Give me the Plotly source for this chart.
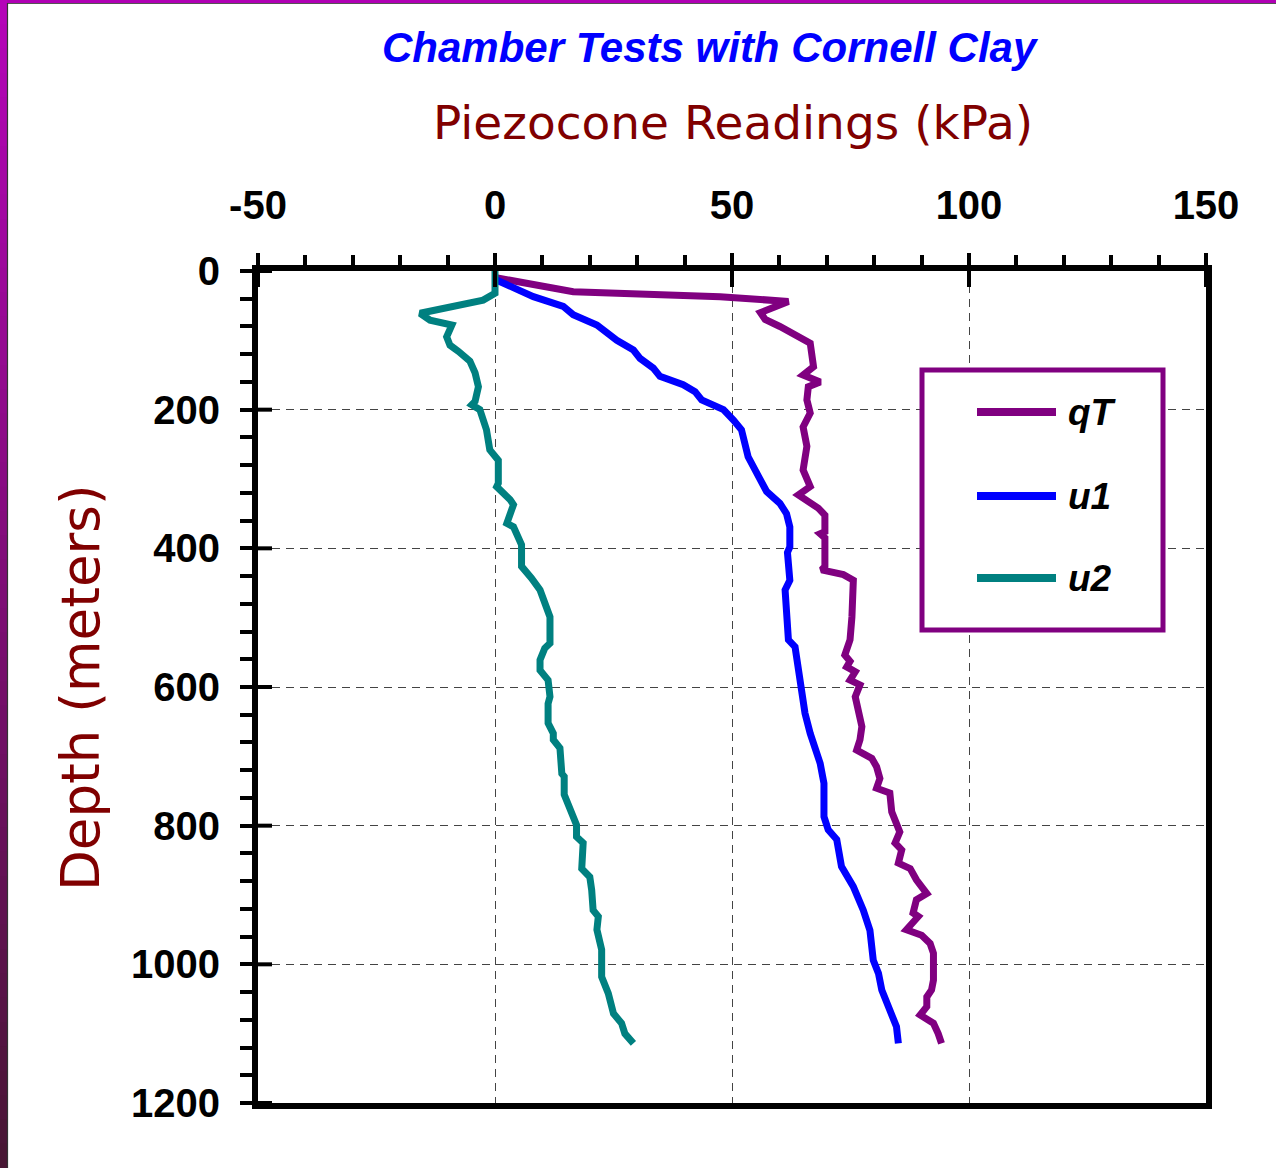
import plotly.graph_objects as go

# ---- piezocone profiles (depth in m, reading in kPa) ----
qt_depth = [10, 30, 37, 44, 60, 70, 80, 104, 138, 150, 160, 167, 186, 205, 225, 253,
            287, 311, 323, 342, 352, 376, 379, 385, 426, 431, 438, 446, 499, 532, 554,
            563, 571, 578, 590, 597, 614, 631, 657, 676, 691, 703, 715, 732, 746, 753,
            780, 809, 825, 835, 854, 862, 878, 898, 907, 926, 931, 950, 958, 970, 984,
            1023, 1037, 1047, 1061, 1073, 1085, 1100, 1114]
qt_val = [0.5, 16.5, 47.5, 61.9, 56.0, 57.0, 60.1, 66.5, 67.2, 65.0, 68.6, 66.1, 65.8,
          66.5, 65.0, 65.8, 65.0, 66.5, 64.0, 68.2, 69.6, 69.6, 68.6, 69.6, 69.6, 68.9,
          73.5, 75.6, 75.3, 74.9, 73.8, 74.9, 74.2, 76.0, 74.9, 77.0, 76.0, 76.7, 77.4,
          77.0, 76.3, 79.5, 80.5, 81.2, 80.5, 83.3, 83.7, 85.4, 84.4, 85.8, 85.1, 87.6,
          88.9, 91.1, 88.9, 88.2, 89.3, 86.8, 90.0, 91.8, 92.5, 92.5, 92.1, 91.1, 91.1,
          89.7, 92.5, 93.5, 94.2]

u1_depth = [13, 37, 51, 63, 78, 100, 114, 126, 140, 152, 164, 174, 186, 200, 215, 229,
            268, 282, 306, 318, 335, 350, 369, 398, 406, 446, 460, 532, 542, 599, 638,
            667, 686, 710, 739, 787, 806, 820, 859, 888, 922, 951, 994, 1013, 1037, 1061,
            1090, 1114]
u1_val = [0.3, 8.1, 14.4, 16.5, 21.5, 25.7, 29.2, 30.6, 33.4, 34.8, 39.7, 42.2, 43.6,
          48.2, 50.3, 52.0, 53.4, 54.5, 56.3, 57.3, 60.1, 61.5, 62.2, 62.2, 61.7, 62.2,
          61.2, 61.9, 63.3, 64.7, 65.4, 66.5, 67.5, 68.6, 69.4, 69.4, 70.3, 72.1, 73.1,
          75.6, 77.7, 79.1, 79.8, 80.9, 81.6, 83.0, 84.7, 85.1]

u2_depth = [0, 32, 42, 51, 61, 71, 78, 95, 107, 116, 130, 147, 167, 188, 193, 200, 229,
            258, 273, 306, 311, 330, 337, 364, 369, 395, 426, 443, 460, 499, 537, 544,
            561, 576, 590, 614, 624, 652, 667, 676, 688, 725, 729, 755, 777, 799, 816,
            825, 862, 874, 893, 922, 931, 950, 979, 1018, 1042, 1071, 1085, 1100, 1114]
u2_val = [0.0, 0.0, -2.5, -8.8, -15.8, -13.7, -9.1, -10.2, -9.5, -7.7, -5.3, -4.2, -3.5,
          -4.2, -4.9, -3.2, -1.8, -1.1, 0.7, 0.7, 0.35, 3.2, 3.9, 2.5, 3.9, 5.6, 5.6, 7.7,
          9.5, 11.6, 11.6, 10.5, 9.5, 9.5, 11.2, 11.6, 11.2, 11.2, 12.3, 12.3, 13.7, 14.1,
          14.6, 14.6, 15.8, 17.2, 17.2, 18.6, 18.3, 20.0, 20.4, 20.7, 21.8, 21.5, 22.5,
          22.5, 23.9, 25.0, 26.7, 27.4, 29.2]

series_names = ["qT", "u1", "u2"]
series_colors = ["#800080", "#0000FF", "#008080"]
series_depths = [qt_depth, u1_depth, u2_depth]
series_values = [qt_val, u1_val, u2_val]

x_ticks = [-50, 0, 50, 100, 150]
x_ticktext = ["-50", "0", "50", "100", "150"]
y_ticks = [0, 200, 400, 600, 800, 1000, 1200]
y_ticktext = ["0", "200", "400", "600", "800", "1000", "1200"]
x_range = [-50, 150]
y_range = [1200, 0]

title_top = "Chamber Tests with Cornell Clay"
title_main = "Piezocone Readings (kPa)"
y_title = "Depth (meters)"

# ---- page geometry (pixels) ----
W, H = 1276, 1168
ML, MR, MT, MB = 258, 70, 271, 65
PW, PH = W - ML - MR, H - MT - MB


def px_x(p):
    return (p - ML) / PW


def px_y(p):
    return 1 - (p - MT) / PH


fig = go.Figure()
for name, color, d, v in zip(series_names, series_colors, series_depths, series_values):
    fig.add_trace(go.Scatter(x=v, y=d, mode="lines", name=name,
                             line=dict(color=color, width=7), showlegend=False))

tick_font = dict(family="Liberation Sans, Arial, sans-serif", size=40, color="black",
                 weight="bold")
grid_dash = "8px,6px"

fig.update_layout(
    width=W, height=H,
    margin=dict(l=ML, r=MR, t=MT, b=MB),
    paper_bgcolor="white", plot_bgcolor="white",
    xaxis=dict(range=x_range, side="top", tickmode="array", tickvals=x_ticks,
               ticktext=x_ticktext,
               showline=True, linecolor="black", linewidth=6, mirror=True,
               ticks="outside", ticklen=12, tickwidth=4, tickcolor="black",
               minor=dict(dtick=10, tick0=-50, ticks="outside", ticklen=10, tickwidth=4,
                          tickcolor="black", showgrid=False),
               showgrid=True, gridcolor="#444", gridwidth=1.2, griddash=grid_dash,
               zeroline=False, tickfont=tick_font, ticklabelstandoff=18),
    yaxis=dict(range=y_range, tickmode="array", tickvals=y_ticks, ticktext=y_ticktext,
               showline=True, linecolor="black", linewidth=6, mirror=True,
               ticks="outside", ticklen=12, tickwidth=4, tickcolor="black",
               minor=dict(dtick=40, tick0=0, ticks="outside", ticklen=12, tickwidth=4,
                          tickcolor="black", showgrid=False),
               showgrid=True, gridcolor="#444", gridwidth=1.2, griddash=grid_dash,
               zeroline=False, tickfont=tick_font, ticklabelstandoff=12),
)

annotations = [
    dict(text=title_top, x=px_x(710), y=px_y(47), xref="paper", yref="paper",
         showarrow=False, xanchor="center", yanchor="middle",
         font=dict(family="Liberation Sans, Arial, sans-serif", size=42,
                   color="#0000FF", weight="bold", style="italic")),
    dict(text=title_main, x=px_x(733), y=px_y(123), xref="paper", yref="paper",
         showarrow=False, xanchor="center", yanchor="middle",
         font=dict(family="Comic Sans MS, DejaVu Sans, sans-serif", size=47,
                   color="#800000")),
    dict(text=y_title, x=px_x(80), y=px_y(688), xref="paper", yref="paper",
         showarrow=False, xanchor="center", yanchor="middle", textangle=-90,
         font=dict(family="Comic Sans MS, DejaVu Sans, sans-serif", size=53,
                   color="#800000")),
]

shapes = []

# inner halves of the crossing major ticks (top and left axes)
for xv in x_ticks:
    shapes.append(dict(type="line", xref="x", yref="paper", x0=xv, x1=xv,
                       y0=1, y1=1 - 16 / PH, line=dict(color="black", width=4),
                       layer="above"))
for yv in y_ticks:
    shapes.append(dict(type="line", xref="paper", yref="y", x0=0, x1=14 / PW,
                       y0=yv, y1=yv, line=dict(color="black", width=4),
                       layer="above"))

# legend box with line samples
shapes.append(dict(type="rect", xref="paper", yref="paper",
                   x0=px_x(922), x1=px_x(1163), y0=px_y(630), y1=px_y(370),
                   line=dict(color="#800080", width=5), fillcolor="white", layer="above"))
legend_rows = [412, 496, 578]
for name, color, row in zip(series_names, series_colors, legend_rows):
    shapes.append(dict(type="line", xref="paper", yref="paper",
                       x0=px_x(977), x1=px_x(1056), y0=px_y(row), y1=px_y(row),
                       line=dict(color=color, width=8), layer="above"))
    annotations.append(dict(text=name, x=px_x(1066), y=px_y(row), xref="paper",
                            yref="paper", showarrow=False, xanchor="left",
                            yanchor="middle",
                            font=dict(family="Liberation Sans, Arial, sans-serif",
                                      size=37, color="black", weight="bold",
                                      style="italic")))

# page frame: magenta strip across the top, shaded strip down the left side
shapes.append(dict(type="rect", xref="paper", yref="paper",
                   x0=px_x(0), x1=px_x(W), y0=px_y(3), y1=px_y(0),
                   line=dict(width=0), fillcolor="#B000B4", layer="above"))
shapes.append(dict(type="line", xref="paper", yref="paper",
                   x0=px_x(0), x1=px_x(W), y0=px_y(3.5), y1=px_y(3.5),
                   line=dict(color="#555555", width=1), layer="above"))
top_rgb = (180, 5, 184)
bot_rgb = (72, 22, 52)
n_bands = 48
for i in range(n_bands):
    t = i / (n_bands - 1)
    c = tuple(int(round(a + (b - a) * t)) for a, b in zip(top_rgb, bot_rgb))
    y0p = H * i / n_bands
    y1p = H * (i + 1) / n_bands + 1
    shapes.append(dict(type="rect", xref="paper", yref="paper",
                       x0=px_x(0), x1=px_x(7), y0=px_y(y1p), y1=px_y(y0p),
                       line=dict(width=0), fillcolor="rgb(%d,%d,%d)" % c, layer="above"))
shapes.append(dict(type="line", xref="paper", yref="paper",
                   x0=px_x(7.5), x1=px_x(7.5), y0=px_y(H), y1=px_y(3),
                   line=dict(color="#333333", width=1.2), layer="above"))

fig.update_layout(annotations=annotations, shapes=shapes)

fig.write_html("out.html")
